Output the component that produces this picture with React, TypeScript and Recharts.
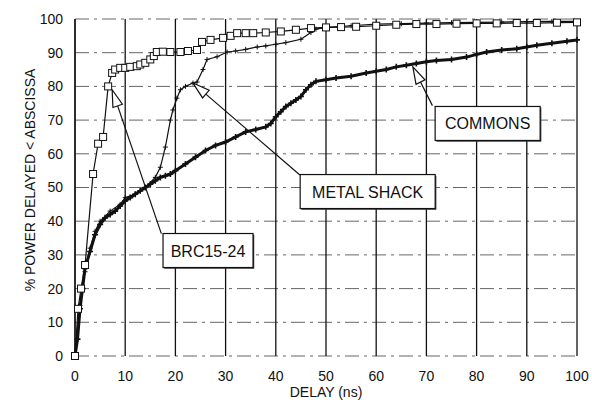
import React from 'react';
import {
  LineChart, Line, XAxis, YAxis, CartesianGrid, ReferenceLine, ReferenceDot, Label,
} from 'recharts';

// delay (ns) ticks and percent ticks
const xTicks = [0, 10, 20, 30, 40, 50, 60, 70, 80, 90, 100];
const yTicks = [0, 10, 20, 30, 40, 50, 60, 70, 80, 90, 100];

// BRC15-24 (squares)
const brcDelay = [0, 0.6, 1.2, 2, 3.6, 4.6, 5.6, 6.6, 7.4, 8, 9, 10, 11, 12.3, 13, 14, 15, 15.7, 16.3, 17.5, 19, 21, 22.5, 24.3, 25.3, 27, 29.5, 31, 32.3, 34, 35.5, 38, 41, 44, 47, 50, 53, 56, 60, 64, 68, 72, 76, 80, 84, 88, 92, 96, 100];
const brcPower = [0, 14, 20, 27, 54, 63, 65, 80, 84, 85, 85.5, 85.5, 85.8, 86, 86.5, 87, 88, 89, 90.2, 90.3, 90.2, 90.2, 90.5, 90.8, 93.2, 93.8, 94.4, 95, 95.8, 95.8, 95.8, 96, 96.3, 96.8, 97.3, 97.5, 97.6, 97.7, 98, 98.3, 98.5, 98.5, 98.6, 98.7, 98.7, 98.8, 98.8, 98.9, 99];

// METAL SHACK (small crosses)
const msDelay = [0, 1, 2, 3, 4, 5, 7, 9, 10, 12, 14, 16, 17, 18, 19, 19.5, 20.3, 21, 22, 23.5, 24.3, 25.5, 26.3, 28.3, 30.3, 32, 34, 36.3, 38, 40, 42, 45, 47, 48, 50, 55, 60, 65, 70, 75, 80, 85, 90, 95, 100];
const msPower = [0, 15, 25, 32, 37, 40, 43, 45, 47, 48, 50, 53, 56, 62, 70, 73, 76.5, 79, 80, 81, 81.3, 85, 88, 88.8, 90.2, 90.5, 91, 91.7, 92, 92.5, 93, 94, 96, 97, 97.5, 98, 98.5, 98.6, 98.8, 98.9, 99, 99.1, 99.2, 99.3, 99.3];

// COMMONS (dense crosses)
const cmDelay = [0, 0.5, 1, 1.5, 2, 3, 4, 5, 6, 7, 8, 9, 10, 11, 12, 13, 14, 15, 16, 17, 18, 19, 20, 22, 24, 26, 28, 30, 32, 34, 36, 38, 39, 40, 41, 42, 43, 44, 45, 46, 47, 48, 50, 52, 55, 58, 60, 62, 64, 66, 68, 70, 72, 75, 78, 80, 82, 85, 88, 90, 92, 95, 98, 100];
const cmPower = [0, 5, 14, 20, 26, 31, 36, 39, 41, 42, 43, 44.5, 46, 47, 48, 49, 50, 51, 52, 53, 53.5, 54, 55, 57, 59, 61, 62.5, 63.5, 65, 66.5, 67.2, 68, 69, 71, 72.5, 74, 75, 76, 77, 79, 80.5, 81.5, 82, 82.5, 83, 84, 84.5, 85, 85.8, 86.3, 86.8, 87.3, 87.7, 88, 88.7, 89.5, 90.2, 90.8, 91.2, 91.7, 92.2, 92.8, 93.4, 93.8];

const brcData = brcDelay.map((d, i) => ({ delay: d, power: brcPower[i] }));
const msData = msDelay.map((d, i) => ({ delay: d, power: msPower[i] }));
const cmData = cmDelay.map((d, i) => ({ delay: d, power: cmPower[i] }));

// callouts: label, box centre, arrow tail (box corner) and tip, in data units
const calloutLabels = ['BRC15-24', 'METAL SHACK', 'COMMONS'];
const calloutBoxX = [26.5, 58.3, 82.2];
const calloutBoxY = [31.3, 48.8, 69];
const calloutTail = [[17.2, 36.3], [44.8, 53.7], [71.2, 74.3]];
const calloutTip = [[7.4, 79], [23.5, 81], [67.3, 85.8]];
const boxW = [90, 135, 105];

const FONT = '"Liberation Sans", Arial, Helvetica, sans-serif';

const Square = (props: any) => {
  const { cx, cy, index } = props;
  if (cx == null || cy == null) return <g key={index} />;
  return <rect key={index} x={cx - 3.5} y={cy - 3.5} width={7} height={7} fill="#fff" stroke="#111" strokeWidth={1} />;
};

const Plus = (size: number, sw: number) => (props: any) => {
  const { cx, cy, index } = props;
  if (cx == null || cy == null) return <g key={index} />;
  return (
    <path key={index} d={`M${cx - size},${cy}H${cx + size}M${cx},${cy - size}V${cy + size}`} stroke="#111" strokeWidth={sw} />
  );
};

// line with a hollow arrow head at (x2, y2)
const Arrow = (props: any) => {
  const { x1, y1, x2, y2 } = props;
  if ([x1, y1, x2, y2].some(v => v == null)) return null;
  const ang = Math.atan2(y2 - y1, x2 - x1);
  const len = 17, half = 5;
  const bx = x2 - len * Math.cos(ang), by = y2 - len * Math.sin(ang);
  const px = -Math.sin(ang) * half, py = Math.cos(ang) * half;
  return (
    <g>
      <line x1={x1} y1={y1} x2={bx} y2={by} stroke="#111" strokeWidth={1.2} />
      <polygon points={`${x2},${y2} ${bx + px},${by + py} ${bx - px},${by - py}`} fill="#fff" stroke="#111" strokeWidth={1.2} />
    </g>
  );
};

const Box = (label: string, w: number) => (props: any) => {
  const { cx, cy } = props;
  const h = 34;
  return (
    <g>
      <rect x={cx - w / 2 + 1.2} y={cy - h / 2 + 1.2} width={w} height={h} fill="#333" />
      <rect x={cx - w / 2} y={cy - h / 2} width={w} height={h} fill="#fff" stroke="#111" strokeWidth={1.2} />
      <text x={cx} y={cy + 6} textAnchor="middle" fontSize={16} fontFamily={FONT} fill="#111">{label}</text>
    </g>
  );
};

const YTitle = () => (
  <text x={30} y={180} transform="rotate(-90 30 180)" textAnchor="middle" dominantBaseline="central" fontSize={14} fontFamily={FONT} fill="#111">
    % POWER DELAYED &lt; ABSCISSA
  </text>
);

export default function App() {
  return (
    <div style={{ position: 'absolute', left: 0, top: 0, background: '#fff' }}>
      <LineChart width={592} height={403} margin={{ top: 19, right: 15, bottom: 4, left: 20 }}>
        <CartesianGrid vertical={false} stroke="#666" strokeDasharray="14 5 3 5" />
        <CartesianGrid horizontal={false} stroke="#111" strokeWidth={1.3} />
        <XAxis
          type="number"
          dataKey="delay"
          domain={[0, 100]}
          ticks={xTicks}
          axisLine={false}
          tickLine={false}
          tickMargin={9}
          height={43}
          tick={{ fontSize: 14, fill: '#111', fontFamily: FONT }}
          allowDuplicatedCategory={false}
        >
          <Label value="DELAY (ns)" position="insideBottom" offset={2} style={{ fontSize: 14, fill: '#111', fontFamily: FONT }} />
        </XAxis>
        <YAxis
          type="number"
          domain={[0, 100]}
          ticks={yTicks}
          width={55}
          axisLine={{ stroke: '#111', strokeWidth: 1.3 }}
          tickLine={false}
          tickMargin={6}
          tick={{ fontSize: 14, fill: '#111', fontFamily: FONT }}
          label={<YTitle />}
        />
        <Line data={cmData} dataKey="power" type="linear" stroke="#111" strokeWidth={3} dot={Plus(3, 1.6)} isAnimationActive={false} />
        <Line data={msData} dataKey="power" type="linear" stroke="#111" strokeWidth={1.2} dot={Plus(2.5, 1)} isAnimationActive={false} />
        <Line data={brcData} dataKey="power" type="linear" stroke="#111" strokeWidth={1.2} dot={<Square />} isAnimationActive={false} />
        {calloutLabels.map((lab, i) => (
          <ReferenceLine
            key={'a' + lab}
            segment={[{ x: calloutTail[i][0], y: calloutTail[i][1] }, { x: calloutTip[i][0], y: calloutTip[i][1] }]}
            shape={Arrow}
            ifOverflow="visible"
          />
        ))}
        {calloutLabels.map((lab, i) => (
          <ReferenceDot
            key={'b' + lab}
            x={calloutBoxX[i]}
            y={calloutBoxY[i]}
            r={1}
            shape={Box(lab, boxW[i])}
            ifOverflow="visible"
          />
        ))}
      </LineChart>
    </div>
  );
}
